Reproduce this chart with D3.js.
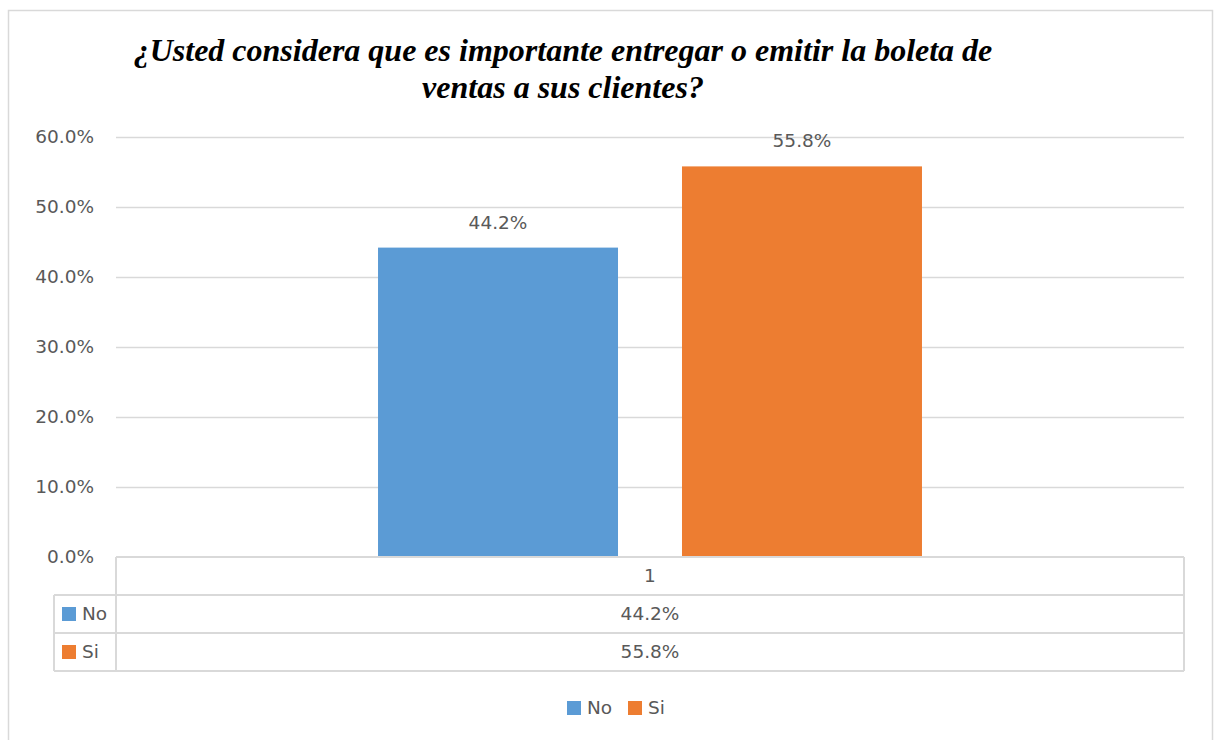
<!DOCTYPE html>
<html><head><meta charset="utf-8">
<script src="https://cdn.jsdelivr.net/npm/d3@7"></script>
<style>body{margin:0;background:#fff}svg{display:block}</style>
</head><body>
<svg id="c" width="1218" height="740"></svg>
<script>
const titleLines = ["¿Usted considera que es importante entregar o emitir la boleta de", "ventas a sus clientes?"];
const categories = ["1"];
const seriesNames = ["No", "Si"];
const seriesValues = [0.442, 0.558];
const seriesColors = ["#5B9BD5", "#ED7D31"];
const yTicks = [0, 0.1, 0.2, 0.3, 0.4, 0.5, 0.6];

const svg = d3.select("#c");
const font = "'DejaVu Sans', sans-serif";
const fs = 18.5;
const txt = "#595959", grid = "#d9d9d9";
const L = 116, R = 1184, T = 137, B = 557;

// chart frame
svg.append("rect").attr("x", 8.5).attr("y", 10.5).attr("width", 1204).attr("height", 740)
  .attr("fill", "#fff").attr("stroke", grid).attr("stroke-width", 1.5);

// title
const title = svg.append("text").attr("text-anchor", "middle")
  .attr("font-family", "'Liberation Serif', 'Times New Roman', serif")
  .attr("font-weight", "bold").attr("font-style", "italic").attr("font-size", 32).attr("fill", "#000");
titleLines.forEach((l, i) => title.append("tspan").attr("x", 563).attr("y", 61 + i * 37).text(l));

const y = d3.scaleLinear().domain([0, 0.6]).range([B, T]);
const x0 = d3.scaleBand().domain(categories).range([L, R]).paddingInner(0).paddingOuter(0);
const x1 = d3.scaleBand().domain(seriesNames).range([0, x0.bandwidth()]).paddingInner(0.2105).paddingOuter(0.862);

// gridlines
svg.append("g").selectAll("line").data(yTicks.filter(d => d > 0)).join("line")
  .attr("x1", L).attr("x2", R).attr("y1", d => Math.round(y(d)) + 0.5).attr("y2", d => Math.round(y(d)) + 0.5)
  .attr("stroke", grid).attr("stroke-width", 1.5);

// y axis labels
const yAxis = d3.axisLeft(y).tickValues(yTicks).tickFormat(d3.format(".1%")).tickSize(0).tickPadding(22);
const ya = svg.append("g").attr("transform", `translate(${L},0)`).call(yAxis);
ya.select(".domain").remove();
ya.selectAll("text").attr("font-family", font).attr("font-size", fs).attr("fill", txt);

// bars
const g = svg.append("g");
categories.forEach(c => {
  seriesNames.forEach((s, i) => {
    const v = seriesValues[i];
    const bx = x0(c) + x1(s);
    g.append("rect").attr("x", bx).attr("y", y(v)).attr("width", x1.bandwidth()).attr("height", B - y(v))
      .attr("fill", seriesColors[i]);
    g.append("text").attr("x", bx + x1.bandwidth() / 2).attr("y", y(v) - 19)
      .attr("text-anchor", "middle").attr("font-family", font).attr("font-size", fs).attr("fill", txt)
      .text(d3.format(".1%")(v));
  });
});

// data table
const rowH = 38, tL = 54;
const tb = svg.append("g").attr("fill", "none").attr("stroke", grid).attr("stroke-width", 2);
tb.append("line").attr("x1", L).attr("x2", R).attr("y1", B).attr("y2", B);
[1, 2, 3].forEach(r => tb.append("line").attr("x1", tL).attr("x2", R).attr("y1", B + r * rowH).attr("y2", B + r * rowH));
tb.append("line").attr("x1", L).attr("x2", L).attr("y1", B).attr("y2", B + 3 * rowH);
tb.append("line").attr("x1", R).attr("x2", R).attr("y1", B).attr("y2", B + 3 * rowH);
tb.append("line").attr("x1", tL).attr("x2", tL).attr("y1", B + rowH).attr("y2", B + 3 * rowH);

const tx = svg.append("g").attr("font-family", font).attr("font-size", fs).attr("fill", txt);
categories.forEach(c => {
  tx.append("text").attr("x", x0(c) + x0.bandwidth() / 2).attr("y", B + rowH / 2).attr("dy", "0.35em")
    .attr("text-anchor", "middle").text(c);
});
seriesNames.forEach((s, i) => {
  const cy = B + rowH * (i + 1) + rowH / 2;
  tx.append("rect").attr("x", 62).attr("y", cy - 7).attr("width", 14).attr("height", 14).attr("fill", seriesColors[i]);
  tx.append("text").attr("x", 82).attr("y", cy).attr("dy", "0.35em").text(s);
  tx.append("text").attr("x", (L + R) / 2).attr("y", cy).attr("dy", "0.35em").attr("text-anchor", "middle")
    .text(d3.format(".1%")(seriesValues[i]));
});

// legend
const lg = svg.append("g").attr("font-family", font).attr("font-size", fs).attr("fill", txt);
const legX = [567, 628];
seriesNames.forEach((s, i) => {
  lg.append("rect").attr("x", legX[i]).attr("y", 701).attr("width", 14).attr("height", 14).attr("fill", seriesColors[i]);
  lg.append("text").attr("x", legX[i] + 20).attr("y", 708).attr("dy", "0.35em").text(s);
});
</script>
</body></html>
